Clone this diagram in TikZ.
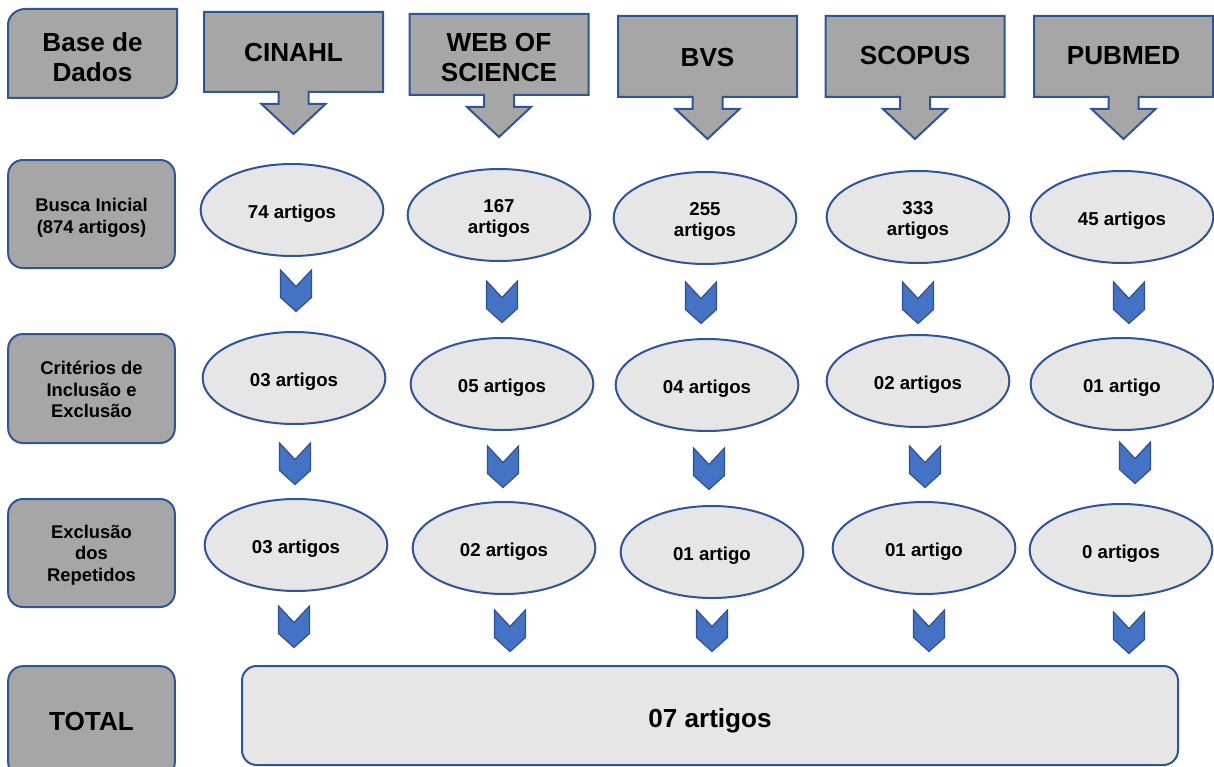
\documentclass[tikz,border=0pt]{standalone}
\usepackage{fontspec}
\setmainfont{Liberation Sans}
\usetikzlibrary{shapes.geometric}
\definecolor{boxgray}{HTML}{A6A6A6}
\definecolor{ellgray}{HTML}{E6E6E6}
\definecolor{bordblue}{HTML}{2F5597}
\definecolor{chevfill}{HTML}{4472C4}
\definecolor{chevbord}{HTML}{2F528F}
\tikzset{
  calloutstyle/.style={fill=boxgray, draw=bordblue, line width=1.5pt, line join=miter},
  titletext/.style={font=\bfseries\fontsize{19.6}{22.5}\selectfont, align=center, inner sep=0pt},
  sidebox/.style={rectangle, rounded corners=11pt, fill=boxgray, draw=bordblue, line width=1.5pt,
    minimum width=125pt, inner sep=0pt},
  sidetext/.style={align=center, inner sep=0pt, font=\bfseries\fontsize{13.8}{16.1}\selectfont},
  bigbox/.style={rectangle, rounded corners=11pt, fill=ellgray, draw=bordblue, line width=1.5pt},
  ell/.style={ellipse, fill=ellgray, draw=bordblue, line width=1.5pt, minimum width=137pt,
    minimum height=69pt, inner sep=0pt},
  elltext/.style={align=center, inner sep=0pt, font=\bfseries\fontsize{14}{15.3}\selectfont},
  chevstyle/.style={fill=chevfill, draw=chevbord, line width=0.9pt, line join=miter},
  chev/.pic={\filldraw[chevstyle] (-15.5,0) -- (0,16.5) -- (15.5,0) -- (15.5,27.5) -- (0,41.5) -- (-15.5,27.5) -- cycle;}
}
% name, center x, top, bottom, text y, text
\newcommand\dbcallout[6]{%
  \filldraw[calloutstyle] ({#2-89.5},#3) -- ({#2+89.5},#3) -- ({#2+89.5},#4) -- ({#2+15},#4)
    -- ({#2+15},{#4+12}) -- ({#2+32},{#4+12}) -- (#2,{#4+42}) -- ({#2-32},{#4+12})
    -- ({#2-15},{#4+12}) -- ({#2-15},#4) -- ({#2-89.5},#4) -- cycle;
  \node[titletext] (#1) at (#2,#5) {#6};
}
% name, x, y, text
\newcommand\ellnode[4]{%
  \node[ell] (#1) at (#2,#3) {};
  \node[elltext] (#1t) at (#2,{#3+3.5}) {#4};
}
\begin{document}
\begin{tikzpicture}[x=0.75pt, y=-0.75pt]
\useasboundingbox (0,0) rectangle (1214,767);
\clip (0,0) rectangle (1214,767);

% header box (diagonal rounded corners)
\filldraw[calloutstyle] (8,25) .. controls (8,16) and (16,9) .. (25,9) -- (177,9) -- (177,82)
  .. controls (177,91) and (169,98) .. (160,98) -- (8,98) -- cycle;
\node[titletext] (base) at (92.5,57) {Base de\\Dados};

% database callouts
\dbcallout{cinahl}{293.5}{12}{92}{52.5}{CINAHL}
\dbcallout{wos}{499}{14}{95}{57.5}{WEB OF\\SCIENCE}
\dbcallout{bvs}{707.5}{16}{97}{57.5}{BVS}
\dbcallout{scopus}{915}{16}{97}{56}{SCOPUS}
\dbcallout{pubmed}{1123.5}{16}{97}{56}{PUBMED}

% left column
\node[sidebox, minimum height=81pt] (busca) at (91.5,214) {};
\node[sidetext] (buscat) at (91.5,218) {Busca Inicial\\(874 artigos)};
\node[sidebox, minimum height=81.75pt] (crit) at (91.5,388.5) {};
\node[sidetext] (critt) at (91.5,389.5) {Critérios de\\Inclusão e\\Exclusão};
\node[sidebox, minimum height=81pt] (excl) at (91.5,553) {};
\node[sidetext] (exclt) at (91.5,555) {Exclusão\\dos\\Repetidos};
\node[sidebox, minimum height=83pt] (total) at (91.5,721.5) {};
\node[titletext] (totalt) at (91.5,721.5) {TOTAL};

% row 1
\ellnode{a1}{292}{210}{74 artigos}
\ellnode{a2}{499}{215}{167\\artigos}
\ellnode{a3}{705}{218}{255\\artigos}
\ellnode{a4}{918}{217}{333\\artigos}
\ellnode{a5}{1122}{217}{45 artigos}
% row 2
\ellnode{b1}{294}{378}{03 artigos}
\ellnode{b2}{502}{384}{05 artigos}
\ellnode{b3}{707}{385}{04 artigos}
\ellnode{b4}{918}{381}{02 artigos}
\ellnode{b5}{1122}{384}{01 artigo}
% row 3
\ellnode{c1}{296}{545}{03 artigos}
\ellnode{c2}{504}{548}{02 artigos}
\ellnode{c3}{712}{552}{01 artigo}
\ellnode{c4}{924}{548}{01 artigo}
\ellnode{c5}{1121}{550}{0 artigos}

% total box
\node[bigbox, minimum width=702pt, minimum height=74.25pt] (totbox) at (710,715.5) {};
\node[titletext] (tottext) at (710,721) {07 artigos};

% chevrons
\pic at (296,270) {chev};
\pic at (502,281) {chev};
\pic at (701,282) {chev};
\pic at (918,282) {chev};
\pic at (1129,282) {chev};

\pic at (295,443) {chev};
\pic at (503,446) {chev};
\pic at (709,448) {chev};
\pic at (925,446) {chev};
\pic at (1135,442) {chev};

\pic at (294,606) {chev};
\pic at (510,610) {chev};
\pic at (712,610) {chev};
\pic at (929,610) {chev};
\pic at (1129,612) {chev};
\end{tikzpicture}
\end{document}
